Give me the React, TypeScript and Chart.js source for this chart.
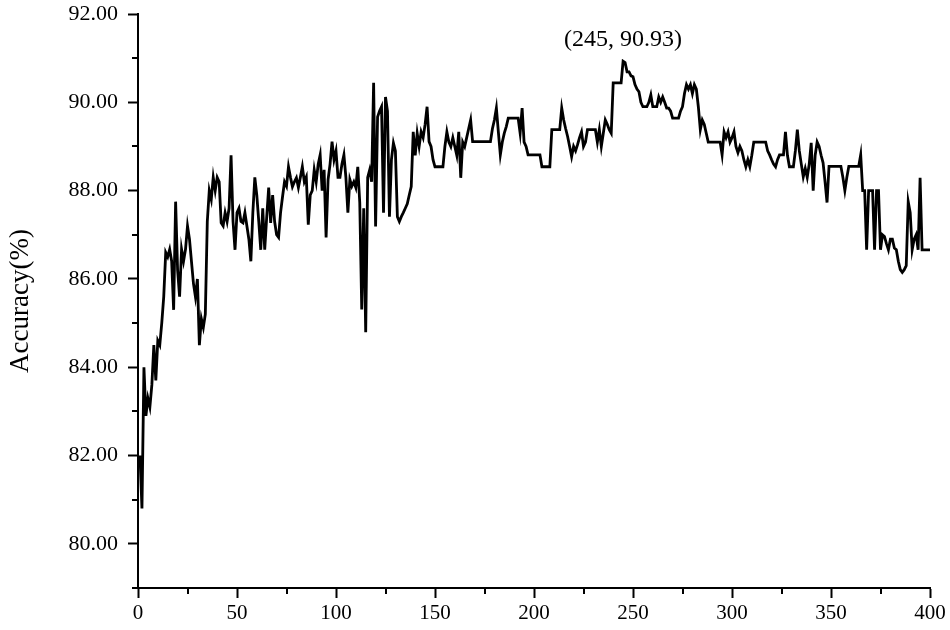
import React, { useEffect, useRef } from "react";
import { Chart, registerables } from "chart.js";

Chart.register(...registerables);

const FONT = "'Liberation Serif', 'Times New Roman', Times, serif";

// x-axis range and ticks (epochs)
const xMin = 0;
const xMax = 400;
const xStep = 25;
const xLabelEvery = 50;

// y-axis range and ticks (accuracy %)
const yMin = 79;
const yMax = 92;
const yStep = 1;
const yLabelEvery = 2;

const yAxisTitle = "Accuracy(%)";

const peakEpoch = 245;
const peakAccuracy = 90.93;
const peakLabel = "(245, 90.93)";

// [epoch, accuracy]
const accuracyEarly: [number, number][] = [
  [1, 82.0], [2, 80.8], [3, 84.0], [4, 82.9], [5, 83.3], [6, 83.1], [7, 83.6], [8, 84.5],
  [9, 83.7], [10, 84.6], [11, 84.5], [12, 85.0], [13, 85.6], [14, 86.6], [15, 86.5],
  [16, 86.67], [17, 86.4], [18, 85.3], [19, 87.75], [20, 86.2], [21, 85.6], [22, 86.67],
  [23, 86.4], [24, 86.67], [25, 87.2], [26, 86.9], [27, 86.4], [28, 85.9], [29, 85.6],
  [30, 86.0], [31, 84.5], [32, 85.1], [33, 84.9], [34, 85.2], [35, 87.3], [36, 88.0],
  [37, 87.8], [38, 88.3], [39, 88.0], [40, 88.3], [41, 88.2], [42, 87.27], [43, 87.2],
  [44, 87.5], [45, 87.3], [46, 87.6], [47, 88.8], [48, 87.3], [49, 86.66], [50, 87.5],
  [51, 87.6], [52, 87.3], [53, 87.27], [54, 87.5], [55, 87.2], [56, 86.9], [57, 86.4],
  [58, 87.5], [59, 88.3], [60, 87.9], [61, 87.3], [62, 86.66], [63, 87.6], [64, 86.66],
  [65, 87.4], [66, 88.07],
];

const accuracyRise: [number, number][] = [
  [67, 87.27], [68, 87.9], [69, 87.3], [70, 87.0], [71, 86.94], [72, 87.5], [73, 87.86],
  [74, 88.2], [75, 88.1], [76, 88.54], [77, 88.3], [78, 88.09], [79, 88.2], [80, 88.29],
  [81, 88.07], [82, 88.3], [83, 88.54], [84, 88.2], [85, 88.31], [86, 87.23], [87, 87.9],
  [88, 88.0], [89, 88.47], [90, 88.2], [91, 88.6], [92, 88.81], [93, 88.0], [94, 88.47],
  [95, 86.94], [96, 88.25], [97, 88.6], [98, 89.11], [99, 88.7], [100, 88.9], [101, 88.3],
  [102, 88.3], [103, 88.6], [104, 88.81], [105, 88.3], [106, 87.5], [107, 88.25],
  [108, 88.1], [109, 88.2], [110, 88.07], [111, 88.54], [112, 87.73], [113, 85.31],
  [114, 87.6], [115, 84.79], [116, 88.3], [117, 88.47], [118, 88.2], [119, 90.44],
  [120, 87.19], [121, 89.67], [122, 89.8], [123, 89.9], [124, 87.5], [125, 90.12],
  [126, 89.8], [127, 87.41], [128, 88.7], [129, 89.08], [130, 88.9], [131, 87.41],
  [132, 87.3], [133, 87.41],
];

const accuracyMiddle: [number, number][] = [
  [134, 87.5], [135, 87.6], [136, 87.7], [137, 87.9], [138, 88.09], [139, 89.33],
  [140, 88.8], [141, 89.3], [142, 89.0], [143, 89.33], [144, 89.2], [145, 89.5],
  [146, 89.9], [147, 89.11], [148, 89.0], [149, 88.7], [150, 88.54], [154, 88.54],
  [155, 89.0], [156, 89.33], [157, 89.1], [158, 89.0], [159, 89.2], [160, 89.0],
  [161, 88.8], [162, 89.33], [163, 88.29], [164, 89.1], [165, 89.0], [166, 89.2],
  [167, 89.4], [168, 89.6], [169, 89.11], [178, 89.11], [179, 89.4], [180, 89.6],
  [181, 89.87], [182, 89.33], [183, 88.81], [184, 89.1], [185, 89.3], [186, 89.45],
  [187, 89.64], [192, 89.64], [193, 89.3], [194, 89.87], [195, 89.1], [196, 89.0],
  [197, 88.81], [203, 88.81], [204, 88.54], [208, 88.54], [209, 89.38], [213, 89.38],
  [214, 89.87], [215, 89.6], [216, 89.4], [217, 89.22], [218, 89.0], [219, 88.77],
  [220, 89.0], [221, 88.9], [222, 89.04], [223, 89.2], [224, 89.33], [225, 89.0],
  [226, 89.1], [227, 89.38], [231, 89.38], [232, 89.1], [233, 89.38], [234, 89.0],
  [235, 89.3], [236, 89.6], [237, 89.5], [238, 89.38], [239, 89.3],
];

const accuracyPeak: [number, number][] = [
  [240, 90.44], [244, 90.44], [245, 90.93], [246, 90.9], [247, 90.69], [248, 90.69],
  [249, 90.6], [250, 90.58], [251, 90.4], [252, 90.3], [253, 90.24], [254, 90.0],
  [255, 89.9], [257, 89.9], [258, 90.0], [259, 90.17], [260, 89.9], [262, 89.9],
  [263, 90.12], [264, 90.0], [265, 90.12], [266, 90.0], [267, 89.87], [268, 89.87],
  [269, 89.8], [270, 89.64], [273, 89.64], [274, 89.8], [275, 89.9], [276, 90.2],
  [277, 90.4], [278, 90.3], [279, 90.4], [280, 90.2], [281, 90.4], [282, 90.3],
  [283, 89.9], [284, 89.38], [285, 89.6], [286, 89.5], [287, 89.3], [288, 89.1],
  [294, 89.1], [295, 88.81], [296, 89.33], [297, 89.2], [298, 89.33], [299, 89.1],
  [300, 89.2], [301, 89.33], [302, 89.0], [303, 88.86], [304, 89.0], [305, 88.9],
  [306, 88.7], [307, 88.54], [308, 88.7], [309, 88.54], [310, 88.8], [311, 89.1],
  [317, 89.1], [318, 88.9], [319, 88.81], [320, 88.7], [321, 88.6], [322, 88.54],
  [323, 88.7], [324, 88.81], [326, 88.81], [327, 89.33], [328, 88.8], [329, 88.54],
  [331, 88.54], [332, 88.9],
];

const accuracyLate: [number, number][] = [
  [333, 89.38], [334, 88.9], [335, 88.6], [336, 88.31], [337, 88.5], [338, 88.3],
  [339, 88.6], [340, 89.08], [341, 88.0], [342, 88.8], [343, 89.1], [344, 89.0],
  [345, 88.8], [346, 88.63], [347, 88.2], [348, 87.73], [349, 88.55], [355, 88.55],
  [356, 88.3], [357, 88.0], [358, 88.3], [359, 88.55], [364, 88.55], [365, 88.81],
  [366, 88.0], [367, 88.0], [368, 86.66], [369, 88.0], [371, 88.0], [372, 86.66],
  [373, 88.0], [374, 88.0], [375, 86.66], [376, 87.0], [377, 86.96], [378, 86.8],
  [379, 86.66], [380, 86.9], [381, 86.9], [382, 86.7], [383, 86.66], [384, 86.4],
  [385, 86.21], [386, 86.15], [387, 86.21], [388, 86.3], [389, 87.75], [390, 87.5],
  [391, 86.66], [392, 86.9], [393, 87.0], [394, 86.66], [395, 88.29], [396, 86.66],
  [400, 86.66],
];

const isMajor = (v: number, every: number) => Math.abs(v % every) < 1e-6;

const extrasPlugin = {
  id: "extras",
  afterDraw(chart: any) {
    const { ctx } = chart;
    const xs = chart.scales.x;
    const ys = chart.scales.y;
    ctx.save();
    ctx.strokeStyle = "#000";
    ctx.lineWidth = 2;
    ctx.beginPath();
    xs.ticks.forEach((t: any) => {
      if (!isMajor(t.value, xLabelEvery)) {
        const px = Math.round(xs.getPixelForValue(t.value));
        ctx.moveTo(px, xs.top);
        ctx.lineTo(px, xs.top + 6);
      }
    });
    ys.ticks.forEach((t: any) => {
      if (!isMajor(t.value, yLabelEvery)) {
        const py = Math.round(ys.getPixelForValue(t.value));
        ctx.moveTo(ys.right - 6, py);
        ctx.lineTo(ys.right, py);
      }
    });
    ctx.stroke();
    // peak annotation
    const px = xs.getPixelForValue(peakEpoch);
    const py = ys.getPixelForValue(peakAccuracy);
    ctx.fillStyle = "#000";
    ctx.font = `24px ${FONT}`;
    ctx.textAlign = "center";
    ctx.textBaseline = "middle";
    ctx.fillText(peakLabel, px, py - 22);
    ctx.restore();
  },
};

export default function App() {
  const canvasRef = useRef<HTMLCanvasElement | null>(null);

  useEffect(() => {
    document.body.style.margin = "0";
    const canvas = canvasRef.current;
    if (!canvas) return;
    const points = [
      ...accuracyEarly,
      ...accuracyRise,
      ...accuracyMiddle,
      ...accuracyPeak,
      ...accuracyLate,
    ].map(([x, y]) => ({ x, y }));

    const chart = new Chart(canvas, {
      type: "line",
      data: {
        datasets: [
          {
            data: points,
            borderColor: "#000",
            borderWidth: 2.8,
            pointRadius: 0,
            tension: 0,
            fill: false,
          },
        ],
      },
      plugins: [extrasPlugin],
      options: {
        animation: false,
        responsive: false,
        devicePixelRatio: 1,
        layout: { padding: { top: 14, right: 20, left: 0, bottom: 0 } },
        plugins: {
          legend: { display: false },
          tooltip: { enabled: false },
        },
        scales: {
          x: {
            type: "linear",
            min: xMin,
            max: xMax,
            afterFit: (s: any) => {
              s.height = 42;
              s.paddingLeft = 0;
              s.paddingRight = 0;
            },
            ticks: {
              stepSize: xStep,
              autoSkip: false,
              maxRotation: 0,
              padding: 3,
              color: "#000",
              font: { family: FONT, size: 21 },
              callback: (v: any) => (isMajor(Number(v), xLabelEvery) ? String(v) : ""),
            },
            grid: {
              drawOnChartArea: false,
              drawTicks: true,
              tickLength: 10,
              tickWidth: 2,
              tickColor: (c: any) =>
                c.tick && isMajor(c.tick.value, xLabelEvery) ? "#000" : "rgba(0,0,0,0)",
            },
            border: { display: true, color: "#000", width: 2 },
          },
          y: {
            type: "linear",
            min: yMin,
            max: yMax,
            afterFit: (s: any) => {
              s.width = 138;
              s.paddingTop = 0;
              s.paddingBottom = 0;
            },
            ticks: {
              stepSize: yStep,
              autoSkip: false,
              padding: 10,
              color: "#000",
              font: { family: FONT, size: 22 },
              callback: (v: any) =>
                isMajor(Number(v), yLabelEvery) ? Number(v).toFixed(2) : "",
            },
            grid: {
              drawOnChartArea: false,
              drawTicks: true,
              tickLength: 10,
              tickWidth: 2,
              tickColor: (c: any) =>
                c.tick && isMajor(c.tick.value, yLabelEvery) ? "#000" : "rgba(0,0,0,0)",
            },
            border: { display: true, color: "#000", width: 2 },
            title: {
              display: true,
              text: yAxisTitle,
              color: "#000",
              font: { family: FONT, size: 27 },
              padding: { top: 5, bottom: 0 },
            },
          },
        },
      },
    });
    return () => chart.destroy();
  }, []);

  return (
    <div style={{ width: 950, height: 630, background: "#fff" }}>
      <canvas ref={canvasRef} width={950} height={630} />
    </div>
  );
}
